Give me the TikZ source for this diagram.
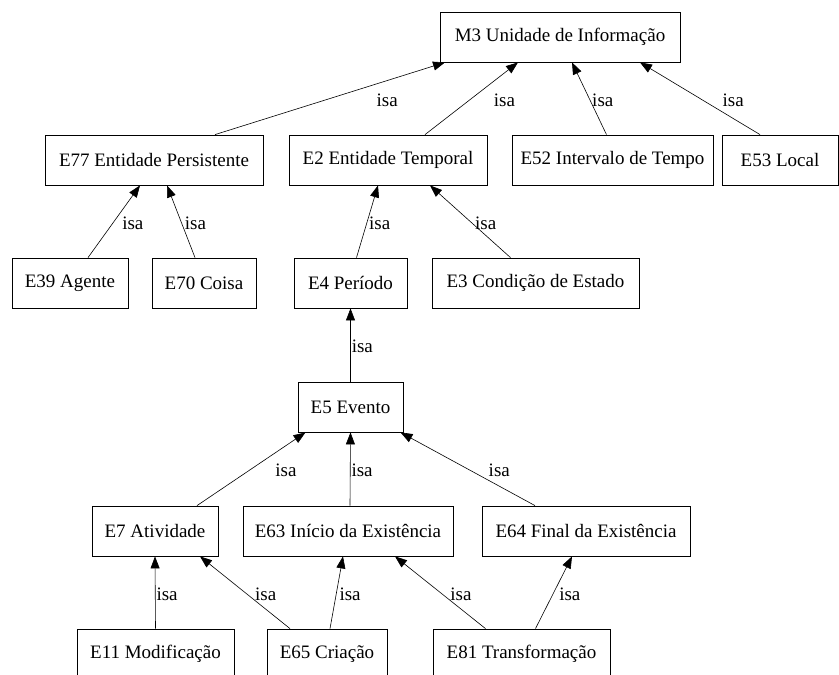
\documentclass[tikz,border=0pt]{standalone}
\usepackage{fontspec}
\setmainfont{Liberation Serif}
\usetikzlibrary{arrows.meta}

\begin{document}
\begin{tikzpicture}[x=1pt, y=-1pt,
		cls/.style={draw, line width=0.8pt, minimum height=50pt, inner sep=0pt, font=\fontsize{19}{23}\selectfont},
		isa/.style={-{Triangle[length=12pt, width=9pt]}, line width=0.6pt},
		isalbl/.style={anchor=west, inner sep=0pt, pos=0.48, font=\fontsize{19}{23}\selectfont}]
				\useasboundingbox (0,0) rectangle (839,675);
				% Classes:
				\node[cls, minimum width=240pt](M3) at (560, 37){M3 Unidade de Informação};
				\node[cls, minimum width=218pt](E77) at (154, 160){E77 Entidade Persistente};
				\node[cls, minimum width=198pt](E2) at (388, 160){E2 Entidade Temporal};
				\node[cls, minimum width=201pt](E52) at (612.5, 160){E52 Intervalo de Tempo};
				\node[cls, minimum width=116pt](E53) at (780, 160){E53 Local};
				\node[cls, minimum width=116pt](E39) at (70, 283){E39 Agente};
				\node[cls, minimum width=104pt](E70) at (204, 283){E70 Coisa};
				\node[cls, minimum width=113pt](E4) at (350.5, 283){E4 Período};
				\node[cls, minimum width=207pt](E3) at (535.5, 283){E3 Condição de Estado};
				\node[cls, minimum width=105pt](E5) at (350.5, 407){E5 Evento};
				\node[cls, minimum width=126pt](E7) at (155, 531){E7 Atividade};
				\node[cls, minimum width=210pt](E63) at (348, 531){E63 Início da Existência};
				\node[cls, minimum width=208pt](E64) at (586, 531){E64 Final da Existência};
				\node[cls, minimum width=157pt](E11) at (155.5, 654){E11 Modificação};
				\node[cls, minimum width=120pt](E65) at (327, 654){E65 Criação};
				\node[cls, minimum width=177pt](E81) at (521.5, 654){E81 Transformação};
				% isa links:
				\draw[isa] ([xshift=61pt]E77.north) -- node[isalbl, xshift=51pt]{isa} ([xshift=-115pt]M3.south);
				\draw[isa] ([xshift=37pt]E2.north) -- node[isalbl, xshift=24pt]{isa} ([xshift=-42pt]M3.south);
				\draw[isa] ([xshift=-6pt]E52.north) -- node[isalbl, xshift=2pt]{isa} ([xshift=12pt]M3.south);
				\draw[isa] ([xshift=-20pt]E53.north) -- node[isalbl, xshift=20pt]{isa} ([xshift=80pt]M3.south);
				\draw[isa] ([xshift=18pt]E39.north) -- node[isalbl, xshift=9pt]{isa} ([xshift=-14pt]E77.south);
				\draw[isa] ([xshift=-9pt]E70.north) -- node[isalbl, xshift=3pt]{isa} ([xshift=13pt]E77.south);
				\draw[isa] ([xshift=6pt]E4.north) -- node[isalbl, xshift=2pt]{isa} ([xshift=-10pt]E2.south);
				\draw[isa] ([xshift=-25pt]E3.north) -- node[isalbl, xshift=3pt]{isa} ([xshift=42pt]E2.south);
				\draw[isa] (E5.north) -- node[isalbl, xshift=1pt]{isa} (E4.south);
				\draw[isa] ([xshift=42pt]E7.north) -- node[isalbl, xshift=26pt]{isa} ([xshift=-45pt]E5.south);
				\draw[isa] ([xshift=2pt]E63.north) -- node[isalbl, xshift=1pt]{isa} (E5.south);
				\draw[isa] ([xshift=-51pt]E64.north) -- node[isalbl, xshift=18pt]{isa} ([xshift=50pt]E5.south);
				\draw[isa] (E11.north) -- node[isalbl, xshift=1pt]{isa} (E7.south);
				\draw[isa] ([xshift=-37pt]E65.north) -- node[isalbl, xshift=8pt]{isa} ([xshift=45pt]E7.south);
				\draw[isa] ([xshift=3pt]E65.north) -- node[isalbl, xshift=3pt]{isa} ([xshift=-5pt]E63.south);
				\draw[isa] ([xshift=-36pt]E81.north) -- node[isalbl, xshift=8pt]{isa} ([xshift=47pt]E63.south);
				\draw[isa] ([xshift=14pt]E81.north) -- node[isalbl, xshift=6pt]{isa} ([xshift=-14pt]E64.south);
			\end{tikzpicture}
\end{document}
